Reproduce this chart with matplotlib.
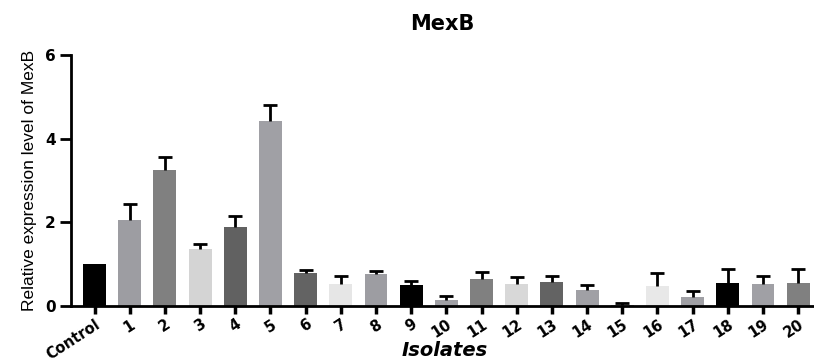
import matplotlib
matplotlib.use("Agg")
import matplotlib.pyplot as plt
import matplotlib.transforms as mtransforms
import numpy as np

categories = ["Control"] + [str(i) for i in range(1, 21)]
values = [1.0, 2.05, 3.25, 1.36, 1.88, 4.43, 0.78, 0.51, 0.75, 0.49,
          0.14, 0.63, 0.51, 0.58, 0.37, 0.01, 0.47, 0.20, 0.54, 0.51, 0.54]
err_top = [1.0, 2.43, 3.55, 1.48, 2.15, 4.79, 0.86, 0.70, 0.83, 0.60,
           0.23, 0.81, 0.68, 0.72, 0.50, 0.07, 0.79, 0.35, 0.87, 0.71, 0.87]
colors = ["#000000", "#9d9da2", "#808080", "#d4d4d4", "#616161", "#a0a0a5",
          "#636363", "#e6e6e6", "#9d9da2", "#000000", "#a0a0a5", "#808080",
          "#d8d8d8", "#636363", "#a0a0a5", "#a0a0a5", "#e8e8e8", "#a0a0a5",
          "#000000", "#a0a0a5", "#808080"]
yticks = [0, 2, 4, 6]

errs = [max(t - v, 0) for t, v in zip(err_top, values)]

fig = plt.figure(figsize=(8.14, 3.61), dpi=100)
ax = fig.add_axes([0.0872, 0.153, 0.9128, 0.695])

x = np.arange(len(categories))
ax.bar(x, values, width=0.65, color=colors, edgecolor="none", zorder=2)
show = [e > 0 for e in errs]
xe = x[show]
ve = np.array(values)[show]
ee = np.array(errs)[show]
eb = ax.errorbar(xe, ve, yerr=[np.zeros(len(ee)), ee], fmt="none", ecolor="black",
                 elinewidth=2, capsize=5, capthick=2, zorder=3)
caps = eb[1]
if len(caps) >= 1:
    caps[0].set_visible(False)

ax.set_xlim(-0.67, 20.45)
ax.set_ylim(0, 6)
ax.set_yticks(yticks)
ax.set_yticklabels([str(t) for t in yticks], fontsize=11, fontweight="bold",
                   family="DejaVu Sans")
ax.set_xticks(x)
ax.set_xticklabels(categories, rotation=33, ha="right", rotation_mode="anchor",
                   fontsize=10.5, fontweight="bold", family="DejaVu Sans")
offset = mtransforms.ScaledTranslation(8 / 100, 3 / 100, fig.dpi_scale_trans)
for lab in ax.get_xticklabels():
    lab.set_transform(lab.get_transform() + offset)

for s in ["top", "right"]:
    ax.spines[s].set_visible(False)
for s in ["left", "bottom"]:
    ax.spines[s].set_linewidth(2)
ax.tick_params(axis="x", direction="out", length=6, width=2.5, pad=2)
ax.tick_params(axis="y", direction="out", length=8, width=2, pad=3)

ax.set_ylabel("Relative expression level of MexB", fontsize=12.5,
              family=["Liberation Sans Narrow", "Liberation Sans", "DejaVu Sans"],
              labelpad=6)
ax.set_xlabel("Isolates", fontsize=14, fontweight="bold", style="italic",
              family="DejaVu Sans", va="center")
ax.xaxis.set_label_coords(0.503, -0.18)
ax.set_title("MexB", fontsize=15, fontweight="bold", family="DejaVu Sans", pad=18)

fig.savefig("out.png", dpi=100)
